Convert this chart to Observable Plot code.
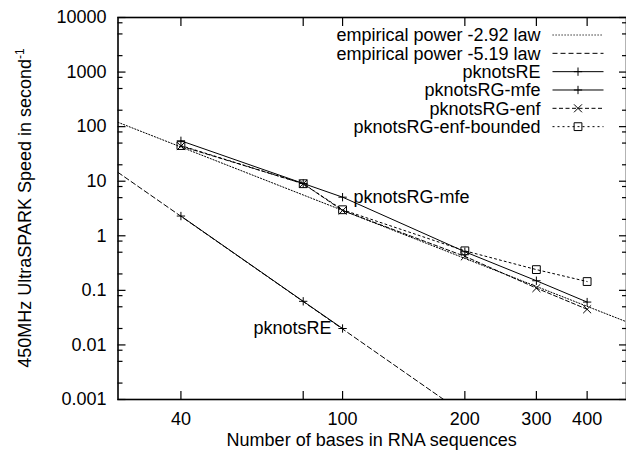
<!DOCTYPE html>
<html><head><meta charset="utf-8">
<script src="https://cdn.jsdelivr.net/npm/d3@7"></script>
<script src="https://cdn.jsdelivr.net/npm/@observablehq/plot@0.6"></script>
<style>html,body{margin:0;padding:0;background:#fff} svg{display:block}</style>
</head><body><div id="chart"></div>
<script>
// ---- data ----
const sizes = [40, 80, 100, 200, 300, 400];
const pknotsRE_sizes = [40, 80, 100];
const pknotsRE = [2.3, 0.063, 0.02];
const pknotsRG_mfe = [55, 9.1, 5.1, 0.51, 0.15, 0.061];
const pknotsRG_enf = [44, 9, 2.9, 0.42, 0.11, 0.045];
const pknotsRG_enf_bounded = [45, 9, 3, 0.53, 0.24, 0.145];

const lawNames = ["empirical power -2.92 law", "empirical power -5.19 law"];
const lawExponents = [-2.92, -5.19];
const lawRefSize = 28;
const lawValuesAtRef = [120, 14.5];

const xTicks = [40, 80, 100, 200, 300, 400];
const yTicks = [0.001, 0.01, 0.1, 1, 10, 100, 1000, 10000];
const yMinorTicks = [0.002, 0.005, 0.008, 0.02, 0.05, 0.08, 0.2, 0.5, 0.8, 2, 5, 8, 20, 50, 80, 200, 500, 800, 2000, 5000, 8000];

const legendLabels = ["empirical power -2.92 law", "empirical power -5.19 law", "pknotsRE", "pknotsRG-mfe", "pknotsRG-enf", "pknotsRG-enf-bounded"];
const annotations = [
  {n: 100, v: 5.1, label: "pknotsRG-mfe", side: "right"},
  {n: 100, v: 0.02, label: "pknotsRE", side: "left"}
];

// ---- tables ----
const xDomain = [28, 500];
const toRows = (ns, vs) => ns.map((n, i) => ({n, v: vs[i]}));
const reData = toRows(pknotsRE_sizes, pknotsRE);
const mfeData = toRows(sizes, pknotsRG_mfe);
const enfData = toRows(sizes, pknotsRG_enf);
const bndData = toRows(sizes, pknotsRG_enf_bounded);
const lawData = lawNames.map((name, i) => xDomain.map(n => ({n, v: lawValuesAtRef[i] * Math.pow(n / lawRefSize, lawExponents[i])})));

const FONT = "'Liberation Sans', Arial, Helvetica, sans-serif";
const dashes = {law1: "1.2,1.8", law2: "5,3", enf: "4,2.5", bnd: "2,3"};

const chart = Plot.plot({
  width: 626, height: 452,
  marginLeft: 117.5, marginRight: 0, marginTop: 17, marginBottom: 53,
  x: {type: "log", domain: xDomain},
  y: {type: "log", domain: [0.001, 10000]},
  style: {fontFamily: FONT, fontSize: "18px", color: "#000", background: "#fff"},
  marks: [
    // series lines
    Plot.line(lawData[0], {x: "n", y: "v", stroke: "#000", strokeWidth: 1, strokeDasharray: dashes.law1, clip: true}),
    Plot.line(lawData[1], {x: "n", y: "v", stroke: "#000", strokeWidth: 1, strokeDasharray: dashes.law2, clip: true}),
    Plot.line(reData, {x: "n", y: "v", stroke: "#000", strokeWidth: 1}),
    Plot.line(mfeData, {x: "n", y: "v", stroke: "#000", strokeWidth: 1}),
    Plot.line(enfData, {x: "n", y: "v", stroke: "#000", strokeWidth: 1, strokeDasharray: dashes.enf}),
    Plot.line(bndData, {x: "n", y: "v", stroke: "#000", strokeWidth: 1, strokeDasharray: dashes.bnd}),
    // markers
    Plot.dot(reData, {x: "n", y: "v", symbol: "plus", r: 2.8, stroke: "#000", strokeWidth: 1}),
    Plot.dot(mfeData, {x: "n", y: "v", symbol: "plus", r: 2.8, stroke: "#000", strokeWidth: 1}),
    Plot.dot(enfData, {x: "n", y: "v", symbol: "times", r: 3.7, stroke: "#000", strokeWidth: 1}),
    Plot.dot(bndData, {x: "n", y: "v", symbol: "square", r: 4.4, stroke: "#000", fill: "none", strokeWidth: 1}),
    // annotations
    Plot.text(annotations.filter(d => d.side === "right"), {x: "n", y: "v", text: "label", textAnchor: "start", dx: 11, fontSize: 18, fill: "#000"}),
    Plot.text(annotations.filter(d => d.side === "left"), {x: "n", y: "v", text: "label", textAnchor: "end", dx: -11, fontSize: 18, fill: "#000"}),
    // axes: inward ticks
    Plot.axisX(xTicks, {anchor: "bottom", tickSize: -8, tickFormat: () => "", label: null, strokeWidth: 1.2}),
    Plot.axisX(xTicks, {anchor: "top", tickSize: -8, tickFormat: () => "", label: null, strokeWidth: 1.2}),
    Plot.axisX(xTicks, {anchor: "bottom", tickSize: 0, tickPadding: 12.5, tickFormat: d => String(d), label: null, fontSize: 18}),
    Plot.axisY(yTicks, {anchor: "left", tickSize: -8, tickFormat: () => "", label: null, strokeWidth: 1.2}),
    Plot.axisY(yTicks, {anchor: "right", tickSize: -8, tickFormat: () => "", label: null, strokeWidth: 1.2}),
    Plot.axisY(yMinorTicks, {anchor: "left", tickSize: -5, tickFormat: () => "", label: null, strokeWidth: 1.2}),
    Plot.axisY(yMinorTicks, {anchor: "right", tickSize: -5, tickFormat: () => "", label: null, strokeWidth: 1.2}),
    Plot.axisY(yTicks, {anchor: "left", tickSize: 0, tickPadding: 11.5, tickFormat: d => String(d), label: null, fontSize: 18}),
    Plot.frame({stroke: "#000", strokeWidth: 1.6})
  ]
});

// ---- axis titles & legend (non-data decorations) ----
const svg = d3.select(chart);
svg.append("text")
  .attr("x", 371.7).attr("y", 446)
  .attr("text-anchor", "middle").attr("font-family", FONT).attr("font-size", 18).attr("fill", "#000")
  .text("Number of bases in RNA sequences");
const yl = svg.append("text")
  .attr("transform", "translate(30.5,208) rotate(-90)")
  .attr("text-anchor", "middle").attr("font-family", FONT).attr("font-size", 18).attr("fill", "#000");
yl.append("tspan").text("450MHz UltraSPARK Speed in second");
yl.append("tspan").attr("font-size", 12).attr("dy", -7).text("-1");

const legendStyles = [
  {dash: dashes.law1, sym: null},
  {dash: dashes.law2, sym: null},
  {dash: null, sym: d3.symbolPlus, size: 2.8},
  {dash: null, sym: d3.symbolPlus, size: 2.8},
  {dash: dashes.enf, sym: d3.symbolTimes, size: 3.7},
  {dash: dashes.bnd, sym: d3.symbolSquare, size: 4.4}
];
const lg = svg.append("g").attr("font-family", FONT).attr("font-size", 18);
legendLabels.forEach((label, i) => {
  const y = 35 + i * 18.33;
  lg.append("text").attr("x", 540.5).attr("y", y).attr("dy", "0.36em")
    .attr("text-anchor", "end").attr("fill", "#000").text(label);
  const st = legendStyles[i];
  lg.append("line").attr("x1", 552.5).attr("x2", 603.5).attr("y1", y).attr("y2", y)
    .attr("stroke", "#000").attr("stroke-width", 1)
    .attr("stroke-dasharray", st.dash);
  if (st.sym) {
    lg.append("path").attr("transform", `translate(578,${y})`)
      .attr("d", d3.symbol(st.sym, st.size * st.size * Math.PI)())
      .attr("fill", "none").attr("stroke", "#000").attr("stroke-width", 1);
  }
});

document.getElementById("chart").appendChild(chart);
</script>
</body></html>
